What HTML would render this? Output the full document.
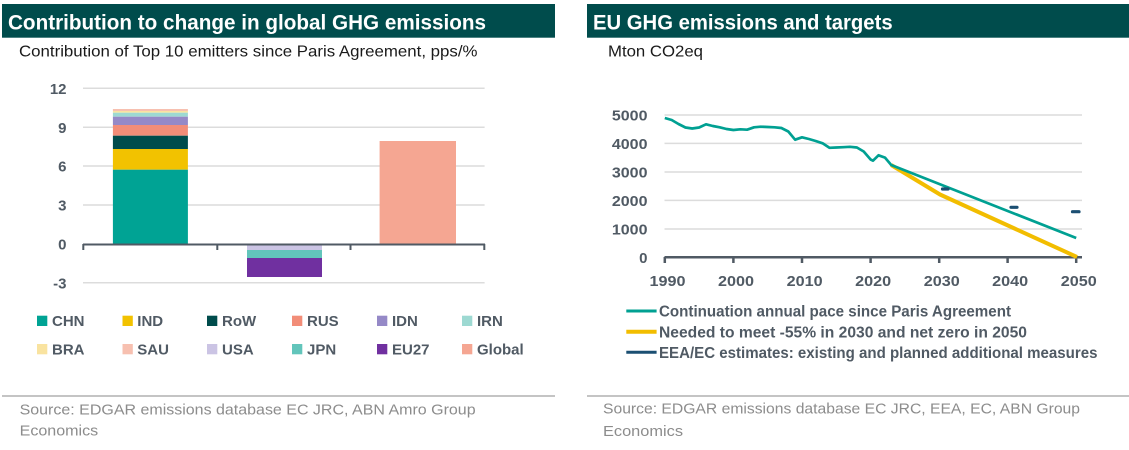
<!DOCTYPE html>
<html><head><meta charset="utf-8"><style>
html,body{margin:0;padding:0;background:#fff;}
svg{display:block;}
text{font-family:"Liberation Sans",sans-serif;}
</style></head><body>
<svg width="1129" height="450" viewBox="0 0 1129 450" xmlns="http://www.w3.org/2000/svg">
<rect x="0" y="0" width="1129" height="450" fill="#fff"/>
<!-- LEFT PANEL -->
<rect x="2" y="4" width="553" height="33.7" fill="#004c4c"/>
<text x="8" y="29.3" font-size="21" font-weight="bold" fill="#fff" textLength="478" lengthAdjust="spacingAndGlyphs">Contribution to change in global GHG emissions</text>
<text x="19" y="56.7" font-size="16" fill="#1a1a1a" textLength="458.5" lengthAdjust="spacingAndGlyphs">Contribution of Top 10 emitters since Paris Agreement, pps/%</text>
<g stroke="#dcdcdc" stroke-width="1.5">
<line x1="83" y1="88.3" x2="484.6" y2="88.3"/>
<line x1="83" y1="127.3" x2="484.6" y2="127.3"/>
<line x1="83" y1="166" x2="484.6" y2="166"/>
<line x1="83" y1="205" x2="484.6" y2="205"/>
<line x1="83" y1="282.7" x2="484.6" y2="282.7"/>
</g>
<g font-size="15" font-weight="bold" fill="#505a64" text-anchor="end">
<text x="66.5" y="94">12</text>
<text x="66.5" y="133">9</text>
<text x="66.5" y="171.7">6</text>
<text x="66.5" y="210.7">3</text>
<text x="66.5" y="249.5">0</text>
<text x="66.5" y="288.5">-3</text>
</g>
<!-- bar1 -->
<rect x="112.9" y="109" width="75" height="2" fill="#f7c0b0"/>
<rect x="112.9" y="111" width="75" height="1.7" fill="#f9e3a0"/>
<rect x="112.9" y="112.7" width="75" height="4" fill="#9dd9d2"/>
<rect x="112.9" y="116.7" width="75" height="8.3" fill="#9589c7"/>
<rect x="112.9" y="125" width="75" height="10.7" fill="#f28d78"/>
<rect x="112.9" y="135.7" width="75" height="13.3" fill="#004c4c"/>
<rect x="112.9" y="149" width="75" height="20.7" fill="#f2c200"/>
<rect x="112.9" y="169.7" width="75" height="74.3" fill="#00a394"/>
<!-- bar2 -->
<rect x="247" y="244" width="75" height="6" fill="#cbc4e4"/>
<rect x="247" y="250" width="75" height="8" fill="#62c5bb"/>
<rect x="247" y="258" width="75" height="19" fill="#7030a0"/>
<!-- bar3 -->
<rect x="379.6" y="141" width="76.4" height="103" fill="#f5a692"/>
<!-- axis -->
<g stroke="#505a64" stroke-width="2">
<line x1="83" y1="244.5" x2="485" y2="244.5"/>
<line x1="83.3" y1="244" x2="83.3" y2="250"/>
<line x1="217.3" y1="244" x2="217.3" y2="250"/>
<line x1="350.5" y1="244" x2="350.5" y2="250"/>
<line x1="484.3" y1="244" x2="484.3" y2="250"/>
</g>
<!-- legend -->
<g font-size="15" font-weight="bold" fill="#505a64">
<rect x="37" y="315.7" width="10.3" height="10.3" fill="#00a394"/><text x="52" y="326">CHN</text>
<rect x="122.5" y="315.7" width="10.3" height="10.3" fill="#f2c200"/><text x="137.3" y="326">IND</text>
<rect x="207" y="315.7" width="10.3" height="10.3" fill="#004c4c"/><text x="222" y="326">RoW</text>
<rect x="292" y="315.7" width="10.3" height="10.3" fill="#f28d78"/><text x="307" y="326">RUS</text>
<rect x="377" y="315.7" width="10.3" height="10.3" fill="#9589c7"/><text x="392" y="326">IDN</text>
<rect x="462" y="315.7" width="10.3" height="10.3" fill="#9dd9d2"/><text x="477" y="326">IRN</text>
<rect x="37" y="344" width="10.3" height="10.3" fill="#f9e3a0"/><text x="52" y="354.3">BRA</text>
<rect x="122.5" y="344" width="10.3" height="10.3" fill="#f7c0b0"/><text x="137.3" y="354.3">SAU</text>
<rect x="207" y="344" width="10.3" height="10.3" fill="#cbc4e4"/><text x="222" y="354.3">USA</text>
<rect x="292" y="344" width="10.3" height="10.3" fill="#62c5bb"/><text x="307" y="354.3">JPN</text>
<rect x="377" y="344" width="10.3" height="10.3" fill="#7030a0"/><text x="392" y="354.3">EU27</text>
<rect x="462" y="344" width="10.3" height="10.3" fill="#f5a692"/><text x="477" y="354.3">Global</text>
</g>
<line x1="2" y1="396" x2="555" y2="396" stroke="#c4c4c4" stroke-width="2"/>
<text x="19.6" y="414.3" font-size="15" fill="#8c8c8c" textLength="456" lengthAdjust="spacingAndGlyphs">Source: EDGAR emissions database EC JRC, ABN Amro Group</text>
<text x="19.6" y="435.7" font-size="15" fill="#8c8c8c" textLength="78.6" lengthAdjust="spacingAndGlyphs">Economics</text>

<!-- RIGHT PANEL -->
<rect x="587" y="4" width="542" height="33.7" fill="#004c4c"/>
<text x="593" y="29.3" font-size="21" font-weight="bold" fill="#fff" textLength="299.6" lengthAdjust="spacingAndGlyphs">EU GHG emissions and targets</text>
<text x="608" y="56.7" font-size="16" fill="#1a1a1a" textLength="95" lengthAdjust="spacingAndGlyphs">Mton CO2eq</text>
<g stroke="#dcdcdc" stroke-width="1.5">
<line x1="664.5" y1="115" x2="1082" y2="115"/>
<line x1="664.5" y1="143.4" x2="1082" y2="143.4"/>
<line x1="664.5" y1="172" x2="1082" y2="172"/>
<line x1="664.5" y1="200.4" x2="1082" y2="200.4"/>
<line x1="664.5" y1="229" x2="1082" y2="229"/>
</g>
<g font-size="15" font-weight="bold" fill="#505a64" text-anchor="end">
<text x="647.5" y="120.7" textLength="35.6" lengthAdjust="spacingAndGlyphs">5000</text>
<text x="647.5" y="149.1" textLength="35.6" lengthAdjust="spacingAndGlyphs">4000</text>
<text x="647.5" y="177.7" textLength="35.6" lengthAdjust="spacingAndGlyphs">3000</text>
<text x="647.5" y="206.1" textLength="35.6" lengthAdjust="spacingAndGlyphs">2000</text>
<text x="647.5" y="234.7" textLength="35.6" lengthAdjust="spacingAndGlyphs">1000</text>
<text x="647.5" y="263">0</text>
</g>
<g stroke="#505a64" stroke-width="2.5">
<line x1="664.5" y1="257.3" x2="1082" y2="257.3"/>
<line x1="664.8" y1="257" x2="664.8" y2="263"/>
<line x1="733.4" y1="257" x2="733.4" y2="263"/>
<line x1="802" y1="257" x2="802" y2="263"/>
<line x1="870.6" y1="257" x2="870.6" y2="263"/>
<line x1="939.2" y1="257" x2="939.2" y2="263"/>
<line x1="1007.6" y1="257" x2="1007.6" y2="263"/>
<line x1="1076.2" y1="257" x2="1076.2" y2="263"/>
</g>
<g font-size="15" font-weight="bold" fill="#505a64" text-anchor="middle">
<text x="667.5" y="286" textLength="36" lengthAdjust="spacingAndGlyphs">1990</text>
<text x="736" y="286" textLength="36" lengthAdjust="spacingAndGlyphs">2000</text>
<text x="804.6" y="286" textLength="36" lengthAdjust="spacingAndGlyphs">2010</text>
<text x="873.2" y="286" textLength="36" lengthAdjust="spacingAndGlyphs">2020</text>
<text x="941.8" y="286" textLength="36" lengthAdjust="spacingAndGlyphs">2030</text>
<text x="1010.2" y="286" textLength="36" lengthAdjust="spacingAndGlyphs">2040</text>
<text x="1078.8" y="286" textLength="36" lengthAdjust="spacingAndGlyphs">2050</text>
</g>
<!-- yellow -->
<polyline points="891.2,165 940,194.5 1077,257" fill="none" stroke="#f2bd00" stroke-width="4" stroke-linejoin="round"/>
<!-- teal -->
<polyline points="664.8,118 671.7,120 678.5,124 685.4,127.5 692.2,128.5 699.1,127.5 706,124.3 712.8,126 719.7,127.3 726.5,129 733.4,130 740.3,129.3 747.1,129.7 754,127.3 760.8,126.7 767.7,127 774.6,127.3 781.4,128 788.3,131.5 795.1,139.7 802,137.3 808.9,139 815.7,141 822.6,143.3 829.4,147.8 836.3,147.5 843.2,147.2 850,146.8 856.9,147.5 863.7,151.5 870.6,159.5 873,160.7 878.5,155.3 885,157.6 891.2,165 1076.2,238" fill="none" stroke="#00a092" stroke-width="2.7" stroke-linejoin="round"/>
<!-- blue dashes -->
<g stroke="#1b4f72" stroke-width="3.2" stroke-linecap="round">
<line x1="942.5" y1="189" x2="948" y2="189"/>
<line x1="1011" y1="207.3" x2="1017" y2="207.3"/>
<line x1="1072.5" y1="211.7" x2="1079" y2="211.7"/>
</g>
<!-- right legend -->
<line x1="626.3" y1="311" x2="656.6" y2="311" stroke="#00a092" stroke-width="3"/>
<line x1="626.3" y1="331.7" x2="656.6" y2="331.7" stroke="#f2bd00" stroke-width="4"/>
<line x1="626.3" y1="352.3" x2="656.6" y2="352.3" stroke="#1b4f72" stroke-width="3"/>
<g font-size="15.5" font-weight="bold" fill="#505a64">
<text x="659" y="316.7" textLength="352" lengthAdjust="spacingAndGlyphs">Continuation annual pace since Paris Agreement</text>
<text x="659" y="337.3" textLength="368" lengthAdjust="spacingAndGlyphs">Needed to meet -55% in 2030 and net zero in 2050</text>
<text x="659" y="358" textLength="438.5" lengthAdjust="spacingAndGlyphs">EEA/EC estimates: existing and planned additional measures</text>
</g>
<line x1="587" y1="396" x2="1129" y2="396" stroke="#c4c4c4" stroke-width="2"/>
<text x="603" y="413.5" font-size="15" fill="#8c8c8c" textLength="477" lengthAdjust="spacingAndGlyphs">Source: EDGAR emissions database EC JRC, EEA, EC, ABN Group</text>
<text x="603" y="436" font-size="15" fill="#8c8c8c" textLength="80" lengthAdjust="spacingAndGlyphs">Economics</text>
</svg>
</body></html>
